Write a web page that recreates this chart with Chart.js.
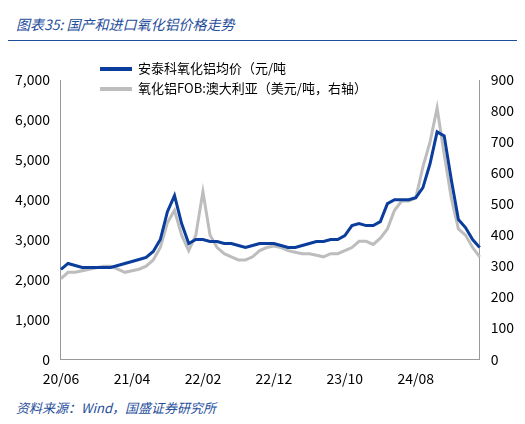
<!DOCTYPE html>
<html><head><meta charset="utf-8">
<script src="https://cdn.jsdelivr.net/npm/chart.js@4"></script>
<style>
body{margin:0;width:525px;height:424px;background:#fff;font-family:"Noto Sans CJK SC",sans-serif;}
#t{position:absolute;left:16px;top:14px;font-size:14px;font-style:italic;color:#1f4e9b;}
#line{position:absolute;left:8px;right:8px;top:40px;border-top:1px solid #1f4e9b;}
#f{position:absolute;left:16px;top:398px;font-size:13px;font-style:italic;color:#1f4e9b;}
#w{position:absolute;left:12px;top:50px;width:505px;height:340px;}
#lg{position:absolute;left:100px;top:58px;font-size:13px;line-height:20px;color:#000;}
#lg span{display:inline-block;width:32px;height:4px;vertical-align:middle;margin-right:6px;}
</style></head><body>
<div id="t">图表35:  国产和进口氧化铝价格走势</div>
<div id="line"></div>
<div id="w"><canvas id="c"></canvas></div>
<div id="lg"><div><span style="background:#0b3d9c"></span>安泰科氧化铝均价（元/吨</div><div><span style="background:#bdbdbd"></span>氧化铝FOB:澳大利亚（美元/吨，右轴）</div></div>
<div id="f">资料来源：Wind，国盛证券研究所</div>
<script>
const months=[];for(let i=0;i<60;i++){const y=20+Math.floor((5+i)/12),m=(5+i)%12+1;months.push(y+'/'+String(m).padStart(2,'0'));}
const domestic=[2250,2400,2350,2300,2300,2300,2300,2300,2350,2400,2450,2500,2550,2700,3000,3700,4100,3400,2900,3000,3000,2950,2950,2900,2900,2850,2800,2850,2900,2900,2900,2850,2800,2800,2850,2900,2950,2950,3000,3000,3100,3350,3400,3350,3350,3450,3900,4000,4000,4000,4050,4300,4900,5700,5600,4500,3500,3300,3000,2800];
const fob=[260,280,280,285,290,295,300,300,290,280,285,290,300,320,360,440,480,400,350,400,540,400,360,340,330,320,320,330,350,360,365,360,350,345,340,340,335,330,340,340,350,360,380,380,370,390,420,480,510,510,520,620,700,810,660,520,420,400,360,330];
const f={family:'"Noto Sans CJK SC",sans-serif',size:14};
new Chart(document.getElementById('c'),{type:'line',
data:{labels:months,datasets:[
{label:'安泰科氧化铝均价（元/吨',data:domestic,borderColor:'#0b3d9c',borderWidth:3,pointRadius:0,yAxisID:'y'},
{label:'氧化铝FOB:澳大利亚（美元/吨，右轴）',data:fob,borderColor:'#bdbdbd',borderWidth:3,pointRadius:0,yAxisID:'y1'}]},
options:{responsive:true,maintainAspectRatio:false,animation:false,
layout:{padding:{left:0,right:0,top:30,bottom:0}},
plugins:{legend:{display:false},tooltip:{enabled:false}},
scales:{
x:{grid:{display:false},border:{color:'#999'},ticks:{autoSkip:false,maxRotation:0,font:f,color:'#000',callback:(v,i)=>i%10===0?months[i]:''}},
y:{min:0,max:7000,grid:{display:false},border:{color:'#999'},ticks:{stepSize:1000,font:f,color:'#000',callback:v=>v.toLocaleString('en-US')}},
y1:{position:'right',min:0,max:900,grid:{display:false},border:{color:'#999'},ticks:{stepSize:100,font:f,color:'#000'}}}}});
</script></body></html>
